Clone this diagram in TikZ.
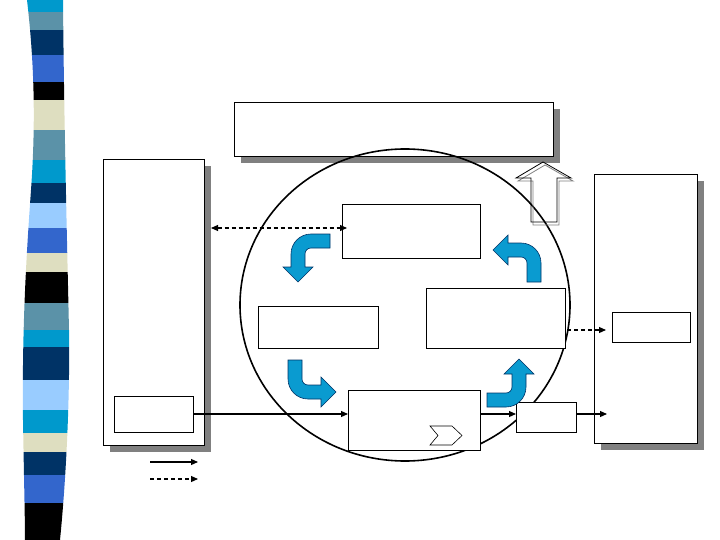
\documentclass[tikz,border=0pt]{standalone}
\usepackage{xcolor}
\usepackage{tikz}
\usetikzlibrary{arrows.meta,backgrounds}

\definecolor{cyanstripe}{HTML}{0099CC}
\definecolor{steelstripe}{HTML}{5B92A8}
\definecolor{navystripe}{HTML}{003366}
\definecolor{royalstripe}{HTML}{3366CC}
\definecolor{beigestripe}{HTML}{DEDEC0}
\definecolor{lightstripe}{HTML}{99CCFF}
\definecolor{turnblue}{HTML}{0A9BD0}

\begin{document}
\begin{tikzpicture}[
  x=1pt, y=-1pt,
  box/.style={rectangle, draw, fill=white, line width=0.9pt, inner sep=0pt, outer sep=0pt},
  shade/.style={fill=black!50},
  link/.style={-{Triangle[length=7pt,width=6pt]}, line width=1.1pt},
  dlink/.style={link, dash pattern=on 4pt off 3pt},
  turn/.style={fill=turnblue, draw=navystripe, line width=0.6pt},
  bendarrow/.pic={
    \path[turn] (0,7) -- (19,7) arc[start angle=90, end angle=0, radius=20]
      -- (39,-26) -- (47,-26) -- (32,-41) -- (17,-26) -- (25,-26) -- (25,-13)
      arc[start angle=0, end angle=90, radius=6] -- (0,-7) -- cycle;
  }
]
  \useasboundingbox (0,0) rectangle (720,540);

  % striped band on the left
  \begin{scope}
    \clip (27,0) .. controls (34,60) and (36,120) .. (31,190)
      .. controls (26,260) and (22,330) .. (23,420)
      .. controls (24,480) and (25,520) .. (25,540)
      -- (60,540) .. controls (66,480) and (70,400) .. (69,330)
      .. controls (67,240) and (64,120) .. (63,0) -- cycle;
    \foreach \ya/\yb/\col in {0/12/cyanstripe, 12/30/steelstripe, 30/55/navystripe,
        55/82/royalstripe, 82/100/black, 100/130/beigestripe, 130/160/steelstripe,
        160/183/cyanstripe, 183/203/navystripe, 203/228/lightstripe,
        228/253/royalstripe, 253/272/beigestripe, 272/303/black,
        303/330/steelstripe, 330/347/cyanstripe, 347/380/navystripe,
        380/410/lightstripe, 410/433/cyanstripe, 433/452/beigestripe,
        452/475/navystripe, 475/503/royalstripe, 503/540/black}
      \fill[\col] (0,\ya) rectangle (100,\yb);
  \end{scope}

  % top banner, then the cycle
  \node[box, minimum width=319pt, minimum height=54pt] (banner) at (393.5,129) {};
  \draw[line width=1.6pt] (405,305) ellipse [x radius=165, y radius=156];

  % side panels
  \node[box, minimum width=101pt, minimum height=286pt] (leftpanel) at (153.5,302) {};
  \node[box, minimum width=79pt, minimum height=36pt] (leftinner) at (153.5,414) {};
  \node[box, minimum width=103pt, minimum height=269pt] (rightpanel) at (645.5,308.5) {};
  \node[box, minimum width=78pt, minimum height=30pt] (rightinner) at (651,327) {};

  % shadows
  \begin{scope}[on background layer]
    \foreach \n in {banner, leftpanel, rightpanel}
      \fill[shade] ([shift={(7pt,-7pt)}]\n.south west) rectangle ([shift={(7pt,-7pt)}]\n.north east);
  \end{scope}

  % steps of the cycle
  \node[box, minimum width=138pt, minimum height=54pt] (stepA) at (411,231) {};
  \node[box, minimum width=120pt, minimum height=42pt] (stepB) at (318,327) {};
  \node[box, minimum width=139pt, minimum height=60pt] (stepC) at (495.5,318) {};
  \node[box, minimum width=132pt, minimum height=60pt] (stepD) at (414,420) {};
  \node[box, minimum width=60pt, minimum height=30pt] (outbox) at (546,417) {};

  % chevron inside the bottom step
  \draw[line width=0.6pt] (430,426) -- (452,426) -- (462,435.5) -- (452,445)
    -- (430,445) -- (438,435.5) -- cycle;

  % turning arrows
  \pic[rotate=180] at (330,241) {bendarrow};
  \pic[rotate=-90] at (295,360) {bendarrow};
  \pic at (487,400) {bendarrow};
  \pic[rotate=90] at (534,282) {bendarrow};

  % hollow up arrow
  \draw[gray, line width=0.8pt] (545,165) -- (573,181) -- (559,181) -- (559,225)
    -- (533,225) -- (533,181) -- (518,181) -- cycle;
  \draw[line width=0.8pt] (543,162) -- (571,178) -- (557,178) -- (557,222)
    -- (531,222) -- (531,178) -- (516,178) -- cycle;

  % connectors
  \coordinate (sink) at (607,414);
  \draw[link] (leftinner.east) -- (leftinner.east -| stepD.west);
  \draw[link] (stepD.east |- leftinner.east) -- (outbox.west |- leftinner.east);
  \draw[link] (outbox.east |- leftinner.east) -- (sink);
  \draw[dlink, {Triangle[length=7pt,width=6pt]}-{Triangle[length=7pt,width=6pt]}]
    ([xshift=7pt, yshift=3pt]leftpanel.east |- stepA.west) -- ([xshift=5pt, yshift=3pt]stepA.west);
  \draw[dlink] ([xshift=2pt, yshift=-3pt]stepC.east |- rightinner.west)
    -- ([xshift=-6pt, yshift=-3pt]rightinner.west);

  % legend
  \coordinate (solidA) at (150,462);
  \coordinate (solidB) at (198,462);
  \coordinate (dashA) at (150,479);
  \coordinate (dashB) at (198,479);
  \draw[link] (solidA) -- (solidB);
  \draw[dlink] (dashA) -- (dashB);
\end{tikzpicture}
\end{document}
